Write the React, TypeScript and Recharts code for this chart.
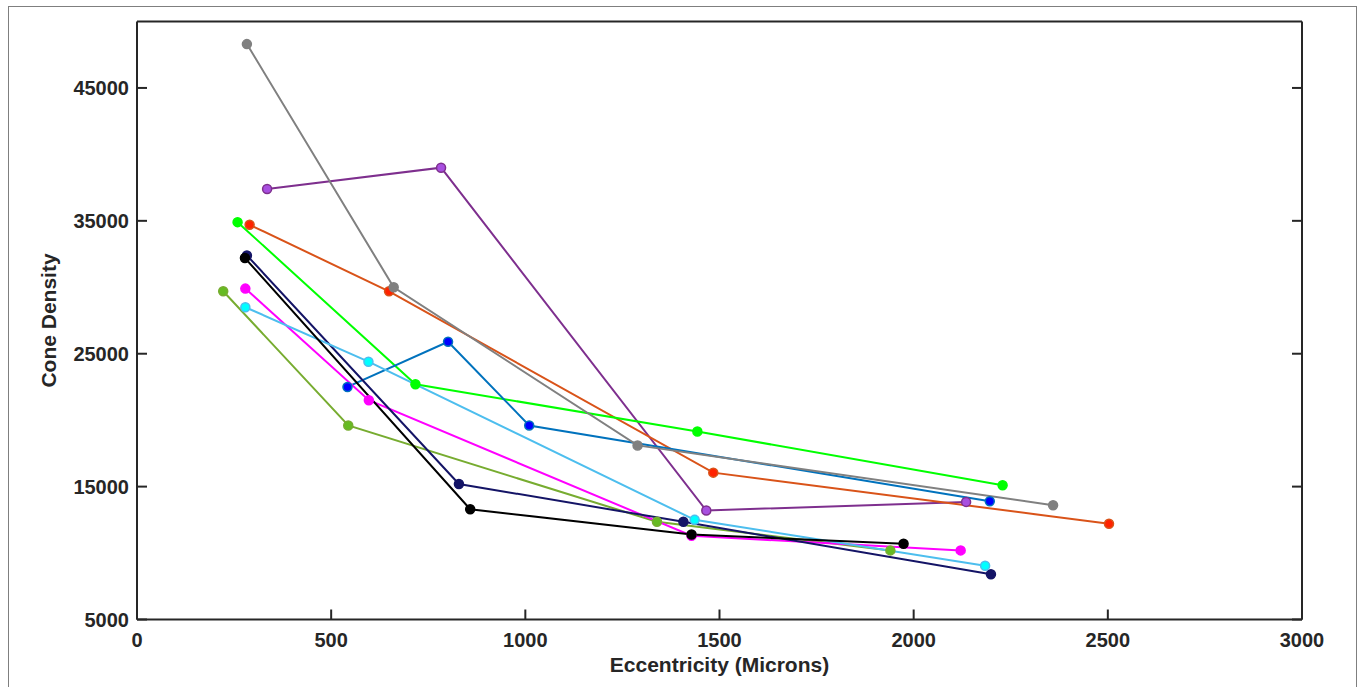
import { Line, LineChart, XAxis, YAxis } from 'recharts';

const xTicks = [0, 500, 1000, 1500, 2000, 2500, 3000];
const yTicks = [5000, 15000, 25000, 35000, 45000];

// eccentricity (microns) / cone density for each subject
const grayX = [283, 661, 1289, 2359];
const grayY = [48300, 30000, 18100, 13600];
const purpleX = [335, 783, 1466, 2135];
const purpleY = [37400, 39000, 13200, 13850];
const greenX = [259, 717, 1443, 2229];
const greenY = [34900, 22700, 19150, 15100];
const orangeX = [290, 649, 1484, 2503];
const orangeY = [34700, 29700, 16050, 12200];
const navyX = [283, 829, 1407, 2199];
const navyY = [32400, 15200, 12350, 8400];
const blackX = [278, 858, 1428, 1974];
const blackY = [32200, 13300, 11400, 10700];
const magentaX = [279, 597, 1428, 2121];
const magentaY = [29900, 21500, 11300, 10200];
const oliveX = [222, 544, 1339, 1940];
const oliveY = [29700, 19600, 12350, 10200];
const cyanX = [279, 596, 1436, 2184];
const cyanY = [28500, 24400, 12500, 9050];
const blueX = [542, 801, 1010, 2196];
const blueY = [22500, 25900, 19600, 13900];

const toPoints = (xs: number[], ys: number[]) => xs.map((x, i) => ({ x, y: ys[i] }));

const series = [
  { id: 'purple', pts: toPoints(purpleX, purpleY), line: '#7E2F8E', face: '#A84FE0' },
  { id: 'orange', pts: toPoints(orangeX, orangeY), line: '#D95319', face: '#FF2200' },
  { id: 'green', pts: toPoints(greenX, greenY), line: '#00FF00', face: '#00FF00' },
  { id: 'blue', pts: toPoints(blueX, blueY), line: '#0072BD', face: '#0000FF' },
  { id: 'gray', pts: toPoints(grayX, grayY), line: '#808080', face: '#808080' },
  { id: 'olive', pts: toPoints(oliveX, oliveY), line: '#77AC30', face: '#66BB22' },
  { id: 'magenta', pts: toPoints(magentaX, magentaY), line: '#FF00FF', face: '#FF00FF' },
  { id: 'navy', pts: toPoints(navyX, navyY), line: '#141466', face: '#141466' },
  { id: 'cyan', pts: toPoints(cyanX, cyanY), line: '#4DBEEE', face: '#00FFFF' },
  { id: 'black', pts: toPoints(blackX, blackY), line: '#000000', face: '#000000' },
];

const ink = '#262626';
const family = '"Liberation Sans", Arial, sans-serif';
const font = { fill: ink, fontSize: 20, fontWeight: 700, fontFamily: family };
const axisLine = { stroke: ink, strokeWidth: 2 };
const TICK = 10;

// matlab style ticks: pointing into the plot box, labels only on bottom/left
function makeTick(side: 'bottom' | 'left' | 'top' | 'right') {
  return (props: any) => {
    const { x, y, payload } = props;
    let x2 = x;
    let y2 = y;
    if (side === 'bottom') y2 = y - TICK;
    if (side === 'top') y2 = y + TICK;
    if (side === 'left') x2 = x + TICK;
    if (side === 'right') x2 = x - TICK;
    return (
      <g>
        <line x1={x} y1={y} x2={x2} y2={y2} stroke={ink} strokeWidth={2} />
        {side === 'bottom' && (
          <text x={x} y={y + 27.5} textAnchor="middle" {...font}>
            {payload.value}
          </text>
        )}
        {side === 'left' && (
          <text x={x - 8} y={y + 7} textAnchor="end" {...font}>
            {payload.value}
          </text>
        )}
      </g>
    );
  };
}

export default function App() {
  return (
    <div style={{ position: 'relative' }}>
      <div
        style={{
          position: 'fixed',
          left: 8,
          top: 6,
          width: 1349,
          height: 700,
          border: '1px solid #7f7f7f',
          boxSizing: 'border-box',
          background: '#fff',
        }}
      />
      <div style={{ position: 'fixed', left: 9, top: 7 }}>
        <LineChart
          width={1340}
          height={680}
          margin={{ top: 13.5, right: 46, left: 18, bottom: 7.5 }}
        >
          <XAxis
            dataKey="x"
            type="number"
            domain={[0, 3000]}
            ticks={xTicks}
            allowDataOverflow
            height={60}
            tickSize={0}
            tickMargin={0}
            axisLine={axisLine}
            tickLine={false}
            tick={makeTick('bottom')}
            label={{
              value: 'Eccentricity (Microns)',
              position: 'insideBottom',
              offset: 7.5,
              style: { ...font, fontSize: 21 },
            }}
          />
          <XAxis
            xAxisId="top"
            orientation="top"
            type="number"
            domain={[0, 3000]}
            ticks={xTicks}
            allowDataOverflow
            height={1}
            tickSize={0}
            tickMargin={0}
            axisLine={axisLine}
            tickLine={false}
            tick={makeTick('top')}
          />
          <YAxis
            type="number"
            domain={[5000, 50000]}
            ticks={yTicks}
            allowDataOverflow
            width={110}
            tickSize={0}
            tickMargin={0}
            axisLine={axisLine}
            tickLine={false}
            tick={makeTick('left')}
            label={{
              value: 'Cone Density',
              angle: -90,
              position: 'insideLeft',
              offset: 21.5,
              style: { ...font, fontSize: 21, textAnchor: 'middle' },
            }}
          />
          <YAxis
            yAxisId="right"
            orientation="right"
            type="number"
            domain={[5000, 50000]}
            ticks={yTicks}
            allowDataOverflow
            width={1}
            tickSize={0}
            tickMargin={0}
            axisLine={axisLine}
            tickLine={false}
            tick={makeTick('right')}
          />
          {series.map((s) => (
            <Line
              key={s.id}
              data={s.pts}
              dataKey="y"
              type="linear"
              stroke={s.line}
              strokeWidth={2}
              dot={{ r: 4.5, fill: s.face, stroke: s.line, strokeWidth: 1.5 }}
              activeDot={false}
              isAnimationActive={false}
            />
          ))}
        </LineChart>
      </div>
    </div>
  );
}
